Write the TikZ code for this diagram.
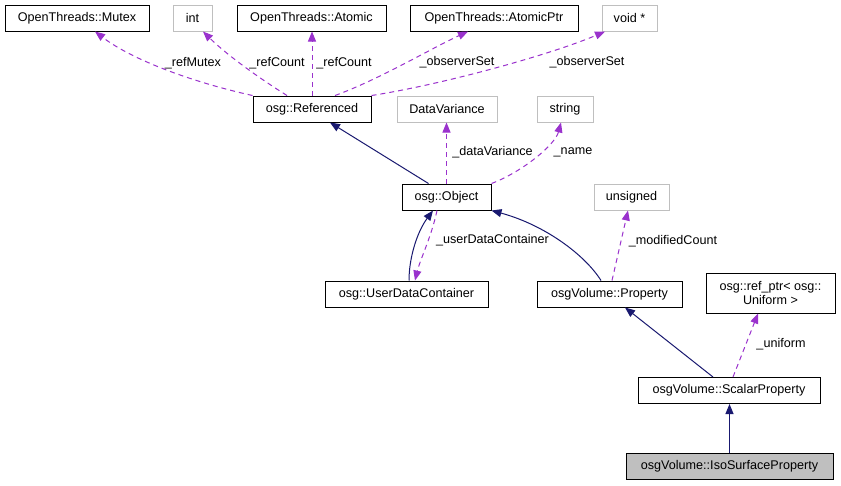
\documentclass[tikz,border=0pt]{standalone}
\usepackage{fontspec}
\setmainfont{Liberation Sans}
\usetikzlibrary{arrows.meta}
\definecolor{dep}{HTML}{9A32CD}
\definecolor{inh}{HTML}{191970}
\definecolor{graybd}{HTML}{BFBFBF}
\begin{document}
\begin{tikzpicture}[x=1pt,y=-1pt,
  every node/.style={font=\fontsize{12.6}{14.5}\selectfont},
  cls/.style={draw=black, line width=1pt, fill=white, inner sep=0pt, minimum height=26pt, align=center},
  ext/.style={draw=graybd, line width=1pt, fill=white, inner sep=0pt, minimum height=26pt, align=center},
  cur/.style={cls, fill=graybd},
  usee/.style={draw=dep, line width=1pt, dash pattern=on 5pt off 4pt, -{Triangle[length=10pt,width=8pt,fill=dep]}},
  isa/.style={draw=inh, line width=1pt, -{Triangle[length=10pt,width=8pt,fill=inh]}},
  lbl/.style={inner sep=0pt}]
\useasboundingbox[fill=white] (0,0) rectangle (841,485);

% nodes
\node[cls, minimum width=144pt] (mutex) at (77,18) {OpenThreads::Mutex};
\node[ext, minimum width=39pt] (int) at (192.5,18) {int};
\node[cls, minimum width=149pt] (atomic) at (311.5,18) {OpenThreads::Atomic};
\node[cls, minimum width=168pt] (atomicptr) at (494,18) {OpenThreads::AtomicPtr};
\node[ext, minimum width=55pt] (voidp) at (629.5,18) {void *};
\node[cls, minimum width=118pt] (referenced) at (312,109) {osg::Referenced};
\node[ext, minimum width=100pt] (datavar) at (447,109) {DataVariance};
\node[ext, minimum width=56pt] (string) at (565,109) {string};
\node[cls, minimum width=89pt] (object) at (446.5,197) {osg::Object};
\node[ext, minimum width=75pt] (unsigned) at (631.5,197) {unsigned};
\node[cls, minimum width=163pt] (udc) at (406.5,294) {osg::UserDataContainer};
\node[cls, minimum width=145pt] (property) at (609.5,294) {osgVolume::Property};
\node[cls, minimum width=129pt, minimum height=40pt] (refptr) at (770.5,293) {osg::ref\_ptr< osg::\\Uniform >};
\node[cls, minimum width=182pt] (scalar) at (729,390.5) {osgVolume::ScalarProperty};
\node[cur, minimum width=207pt] (iso) at (729.5,466) {osgVolume::IsoSurfaceProperty};

% usage edges
\draw[usee] (referenced.north west) .. controls (200,84) and (135,62) .. ([xshift=18pt]mutex.south);
\draw[usee] ([xshift=-25pt]referenced.north) .. controls (262,80) and (228,56) .. ([xshift=10.5pt]int.south);
\draw[usee] (referenced.north) -- (referenced.north |- atomic.south);
\draw[usee] ([xshift=23pt]referenced.north) .. controls (378,80) and (432,48) .. ([xshift=-26pt]atomicptr.south);
\draw[usee] (referenced.north east) .. controls (440,85) and (550,55) .. ([xshift=-24.5pt]voidp.south);
\draw[usee] (object.north) -- (object.north |- datavar.south);
\draw[usee] (object.north east) .. controls (522,172) and (555,145) .. ([xshift=-4pt]string.south);
\draw[usee] ([xshift=-9.5pt]object.south) .. controls (432,235) and (420,260) .. ([xshift=8.5pt]udc.north);
\draw[usee] ([xshift=2.5pt]property.north) -- ([xshift=-3.5pt]unsigned.south);
\draw[usee] ([xshift=4pt]scalar.north) -- ([xshift=-12.5pt]refptr.south);

% inheritance edges
\draw[isa] ([xshift=-18pt]object.north) -- ([xshift=18pt]referenced.south);
\draw[isa] ([xshift=2.5pt]udc.north) .. controls (409,258) and (417,232) .. ([xshift=-13.5pt]object.south);
\draw[isa] ([xshift=-8.5pt]property.north) .. controls (585,255) and (545,225) .. (object.south east);
\draw[isa] ([xshift=-16pt]scalar.north) -- ([xshift=15.5pt]property.south);
\draw[isa] (iso.north) -- (iso.north |- scalar.south);

% labels
\node[lbl] (l1) at (193,63) {\_refMutex};
\node[lbl] (l2) at (277,63) {\_refCount};
\node[lbl] (l3) at (344,63) {\_refCount};
\node[lbl] (l4) at (457,62) {\_observerSet};
\node[lbl] (l5) at (587,62) {\_observerSet};
\node[lbl] (l6) at (492.5,152) {\_dataVariance};
\node[lbl] (l7) at (573,152) {\_name};
\node[lbl] (l8) at (492.5,240) {\_userDataContainer};
\node[lbl] (l9) at (673,241) {\_modifiedCount};
\node[lbl] (l10) at (781,344) {\_uniform};
\end{tikzpicture}
\end{document}
